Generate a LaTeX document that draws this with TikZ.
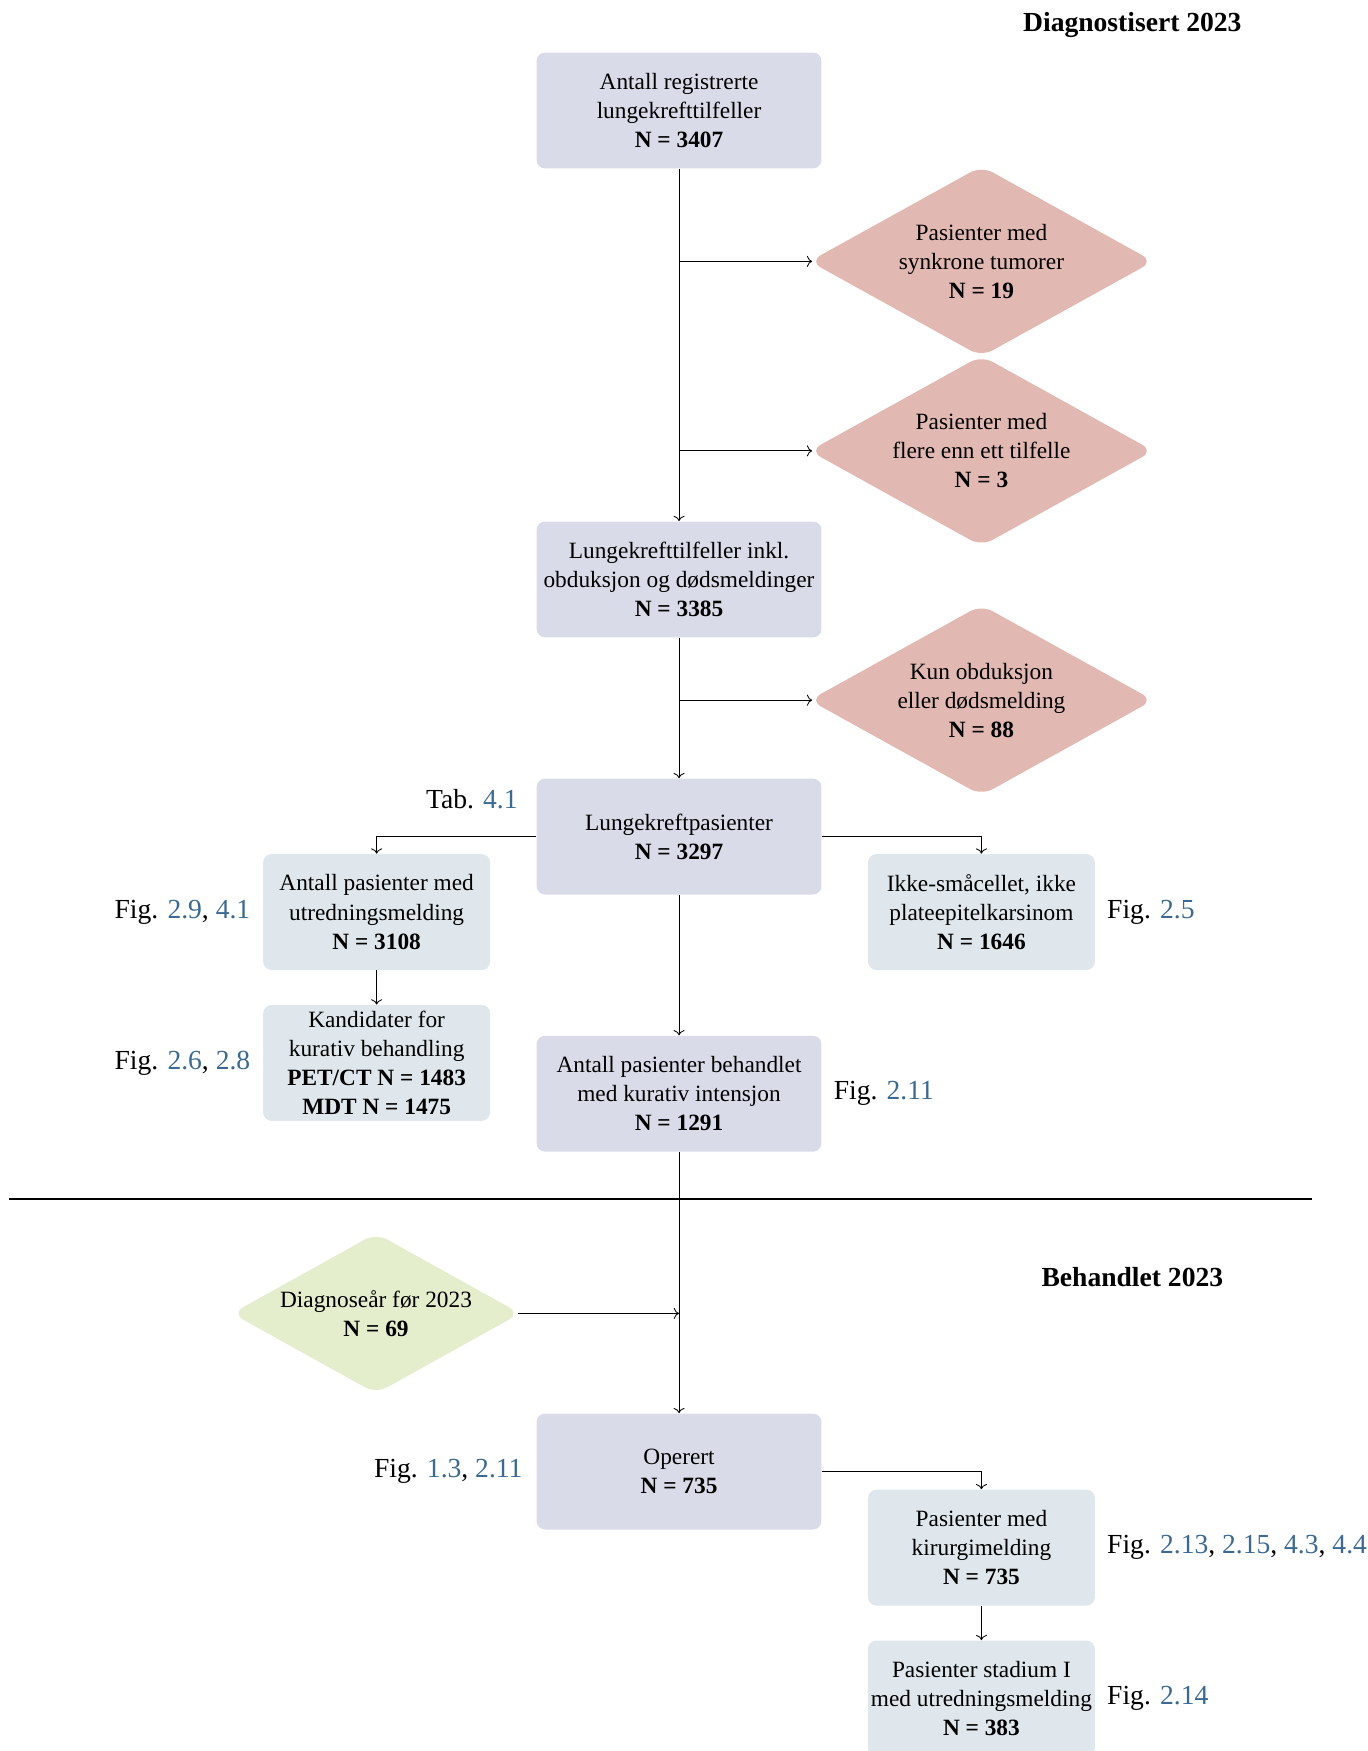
\documentclass[tikz,border=0pt]{standalone}
\usepackage{fontspec}
\setmainfont{Liberation Serif}
\usetikzlibrary{arrows.meta,calc,positioning,shapes.geometric}
\definecolor{boxgray}{RGB}{217,219,232}
\definecolor{boxblue}{RGB}{223,231,236}
\definecolor{exclred}{RGB}{226,185,178}
\definecolor{inclgreen}{RGB}{228,237,204}
\definecolor{reflink}{RGB}{60,105,145}
\newcommand{\lnk}[1]{\textcolor{reflink}{#1}}

\begin{document}
\begin{tikzpicture}[
    font=\fontsize{11}{13.7}\selectfont,
    mainbox/.style={fill=boxgray,rounded corners=4pt,align=center,
      minimum width=4.72cm,minimum height=1.92cm,inner sep=1pt},
    subbox/.style={mainbox,fill=boxblue,minimum width=3.76cm},
    exclbox/.style={diamond,aspect=1.8,fill=exclred,rounded corners=6pt,
      align=center,minimum width=5.7cm,minimum height=3.16cm,inner sep=0pt},
    inclbox/.style={exclbox,fill=inclgreen,minimum width=4.78cm,minimum height=2.66cm},
    figref/.style={font=\fontsize{13}{15}\selectfont,inner sep=0pt},
    heading/.style={font=\fontsize{13}{15}\selectfont\bfseries,inner sep=0pt}]
    \useasboundingbox (0,0) rectangle (22.66,-29.01);
    \node[heading] (diag) at (18.76,-0.41) {Diagnostisert 2023};
    \node[mainbox] (reg) at (11.25,-1.83)
      {Antall registrerte\\lungekrefttilfeller\\\textbf{N = 3407}};
    \node[exclbox] (synk) at (16.26,-4.33)
      {Pasienter med\\synkrone tumorer\\\textbf{N = 19}};
    \node[exclbox] (flere) at (16.26,-7.47)
      {Pasienter med\\flere enn ett tilfelle\\\textbf{N = 3}};
    \node[mainbox] (inkl) at (11.25,-9.60)
      {Lungekrefttilfeller inkl.\\obduksjon og dødsmeldinger\\\textbf{N = 3385}};
    \node[exclbox] (obd) at (16.26,-11.60)
      {Kun obduksjon\\eller dødsmelding\\\textbf{N = 88}};
    \node[mainbox] (pas) at (11.25,-13.86)
      {Lungekreftpasienter\\\textbf{N = 3297}};
    \node[subbox] (utr) at (6.24,-15.11)
      {Antall pasienter med\\utredningsmelding\\\textbf{N = 3108}};
    \node[subbox] (nsclc) at (16.26,-15.11)
      {Ikke-småcellet, ikke\\plateepitelkarsinom\\\textbf{N = 1646}};
    \node[subbox] (kand) at (6.24,-17.61)
      {Kandidater for\\kurativ behandling\\\textbf{PET/CT N = 1483}\\\textbf{MDT N = 1475}};
    \node[mainbox] (kur) at (11.25,-18.12)
      {Antall pasienter behandlet\\med kurativ intensjon\\\textbf{N = 1291}};

    \node[figref,anchor=east] (tabpas) at ($(pas.north west)+(-0.3,-0.35)$) {Tab. \lnk{4.1}};
    \node[figref,left=0.2cm of utr] (figutr) {Fig. \lnk{2.9}, \lnk{4.1}};
    \node[figref,right=0.19cm of nsclc] (fignsclc) {Fig. \lnk{2.5}};
    \node[figref,left=0.2cm of kand] (figkand) {Fig. \lnk{2.6}, \lnk{2.8}};
    \node[figref,right=0.19cm of kur] (figkur) {Fig. \lnk{2.11}};

    \draw[->] (reg) -- (inkl);
    \draw[->,shorten >=-1.5pt] (reg |- synk) -- (synk);
    \draw[->,shorten >=-1.5pt] (reg |- flere) -- (flere);
    \draw[->] (inkl) -- (pas);
    \draw[->,shorten >=-1.5pt] (inkl |- obd) -- (obd);
    \draw[->] (pas.west) -| (utr.north);
    \draw[->] (pas.east) -| (nsclc.north);
    \draw[->] (utr) -- (kand);
    \draw[->] (pas) -- (kur);

    \draw[thick] (0.15,-19.87) -- (21.74,-19.87);

    \node[heading] (behtitle) at (18.76,-21.15) {Behandlet 2023};
    \node[inclbox] (tidl) at (6.23,-21.76)
      {Diagnoseår før 2023\\\textbf{N = 69}};
    \node[mainbox] (oper) at (11.25,-24.38)
      {Operert\\\textbf{N = 735}};
    \node[subbox] (kir) at (16.26,-25.64)
      {Pasienter med\\kirurgimelding\\\textbf{N = 735}};
    \node[subbox] (stad) at (16.26,-28.14)
      {Pasienter stadium I\\med utredningsmelding\\\textbf{N = 383}};

    \node[figref,left=0.22cm of oper] (figoper) {Fig. \lnk{1.3}, \lnk{2.11}};
    \node[figref,right=0.19cm of kir] (figkir)
      {Fig. \lnk{2.13}, \lnk{2.15}, \lnk{4.3}, \lnk{4.4}};
    \node[figref,right=0.19cm of stad] (figstad) {Fig. \lnk{2.14}};

    \draw[->] (kur) -- (oper);
    \draw[->,shorten <=-1.5pt] (tidl.east) -- (tidl -| oper);
    \draw[->] (oper.east) -| (kir.north);
    \draw[->] (kir) -- (stad);
  \end{tikzpicture}
\end{document}
